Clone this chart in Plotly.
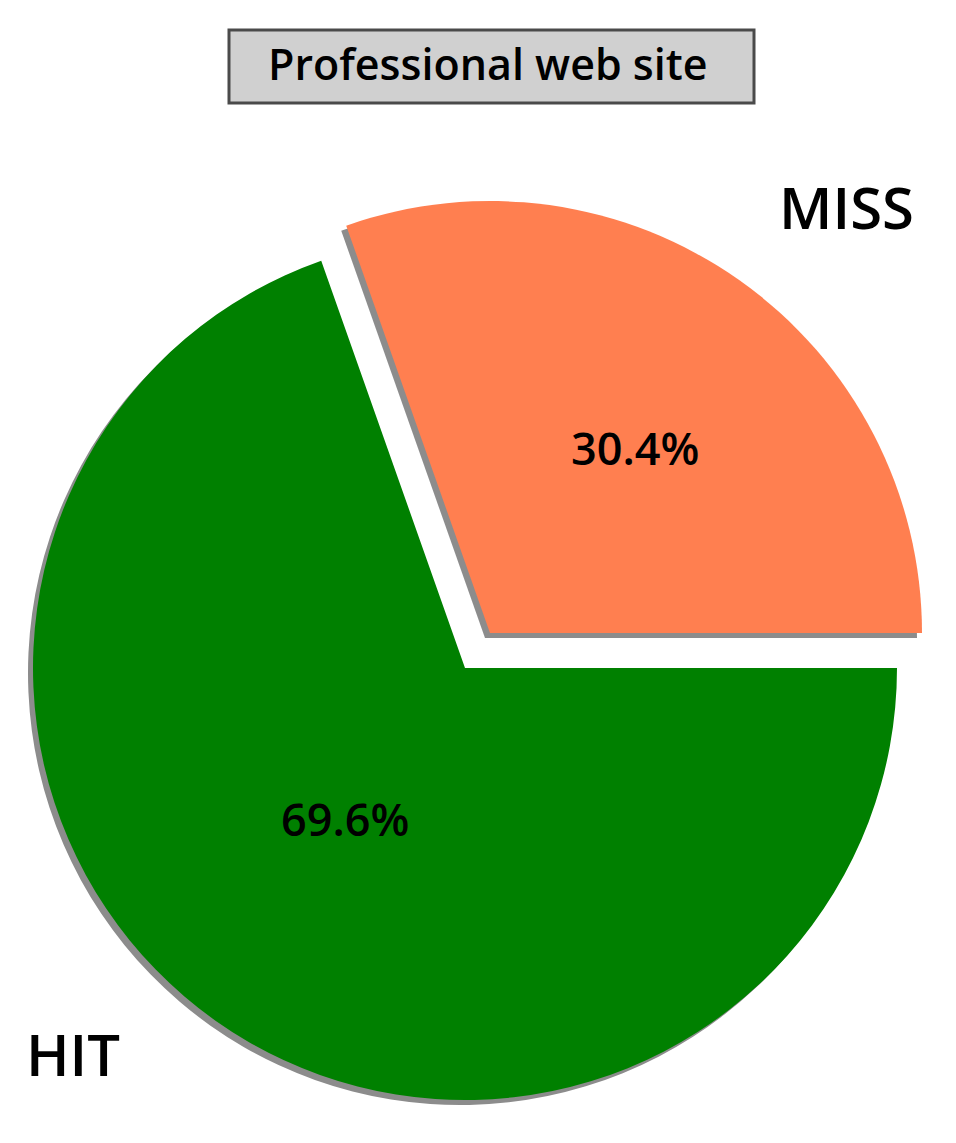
import plotly.graph_objects as go

labels = ["MISS", "HIT"]
values = [30.4, 69.6]
colors = ["#FF7F50", "#008000"]
title_text = "Professional web site"

W, H = 956, 1143
FONT = "Open Sans"
OFF = 8  # page body margin compensation

# geometry (pixels, as seen in the page)
R = 432
hit_c = (465 - OFF, 668 - OFF)
miss_c = (490 - OFF, 633 - OFF)
shadow = (-5, 5)

def dom(cx, cy):
    return dict(x=[(cx - R) / W, (cx + R) / W],
                y=[(H - cy - R) / H, (H - cy + R) / H])

def px(x):
    return (x - OFF) / W

def py(y):
    return 1 - (y - OFF) / H

total = sum(values)
rot = 90 - values[0] / total * 360

def pie(center, cols):
    return go.Pie(
        labels=labels, values=values, sort=False, direction="clockwise",
        rotation=rot, domain=dom(*center),
        marker=dict(colors=cols, line=dict(width=0)),
        textinfo="none", showlegend=False, hoverinfo="skip",
    )

T = "rgba(0,0,0,0)"
SH = "#8c8c8c"
fig = go.Figure()
fig.add_trace(pie((hit_c[0] + shadow[0], hit_c[1] + shadow[1]), [T, SH]))
fig.add_trace(pie((miss_c[0] + shadow[0], miss_c[1] + shadow[1]), [SH, T]))
fig.add_trace(pie(hit_c, [T, colors[1]]))
fig.add_trace(pie(miss_c, [colors[0], T]))

# percentage labels (page positions of text centres)
pct_pos = [(635, 448), (345, 818)]
for v, (x, y) in zip(values, pct_pos):
    fig.add_annotation(text=f"{v / total * 100:.1f}%", xref="paper", yref="paper",
                       x=px(x), y=py(y), showarrow=False,
                       xanchor="center", yanchor="middle",
                       font=dict(family=FONT, size=45, color="black", weight=600))

fig.add_shape(type="rect", xref="paper", yref="paper",
              x0=px(229), x1=px(754), y0=py(103), y1=py(30),
              line=dict(color="#4a4a4a", width=3), fillcolor="#d0d0d0", layer="below")
fig.add_annotation(text=title_text, xref="paper", yref="paper",
                   x=px(488), y=py(64), showarrow=False,
                   xanchor="center", yanchor="middle",
                   font=dict(family=FONT, size=43, color="black", weight=600))

name_pos = [(846, 207), (73, 1053)]
for lab, (x, y) in zip(labels, name_pos):
    fig.add_annotation(text=lab, xref="paper", yref="paper",
                       x=px(x), y=py(y), showarrow=False,
                       xanchor="center", yanchor="middle",
                       font=dict(family=FONT, size=58, color="black", weight=600))

fig.update_layout(width=W, height=H, margin=dict(l=0, r=0, t=0, b=0),
                  paper_bgcolor="white", plot_bgcolor="white")
fig.write_html("out.html")
